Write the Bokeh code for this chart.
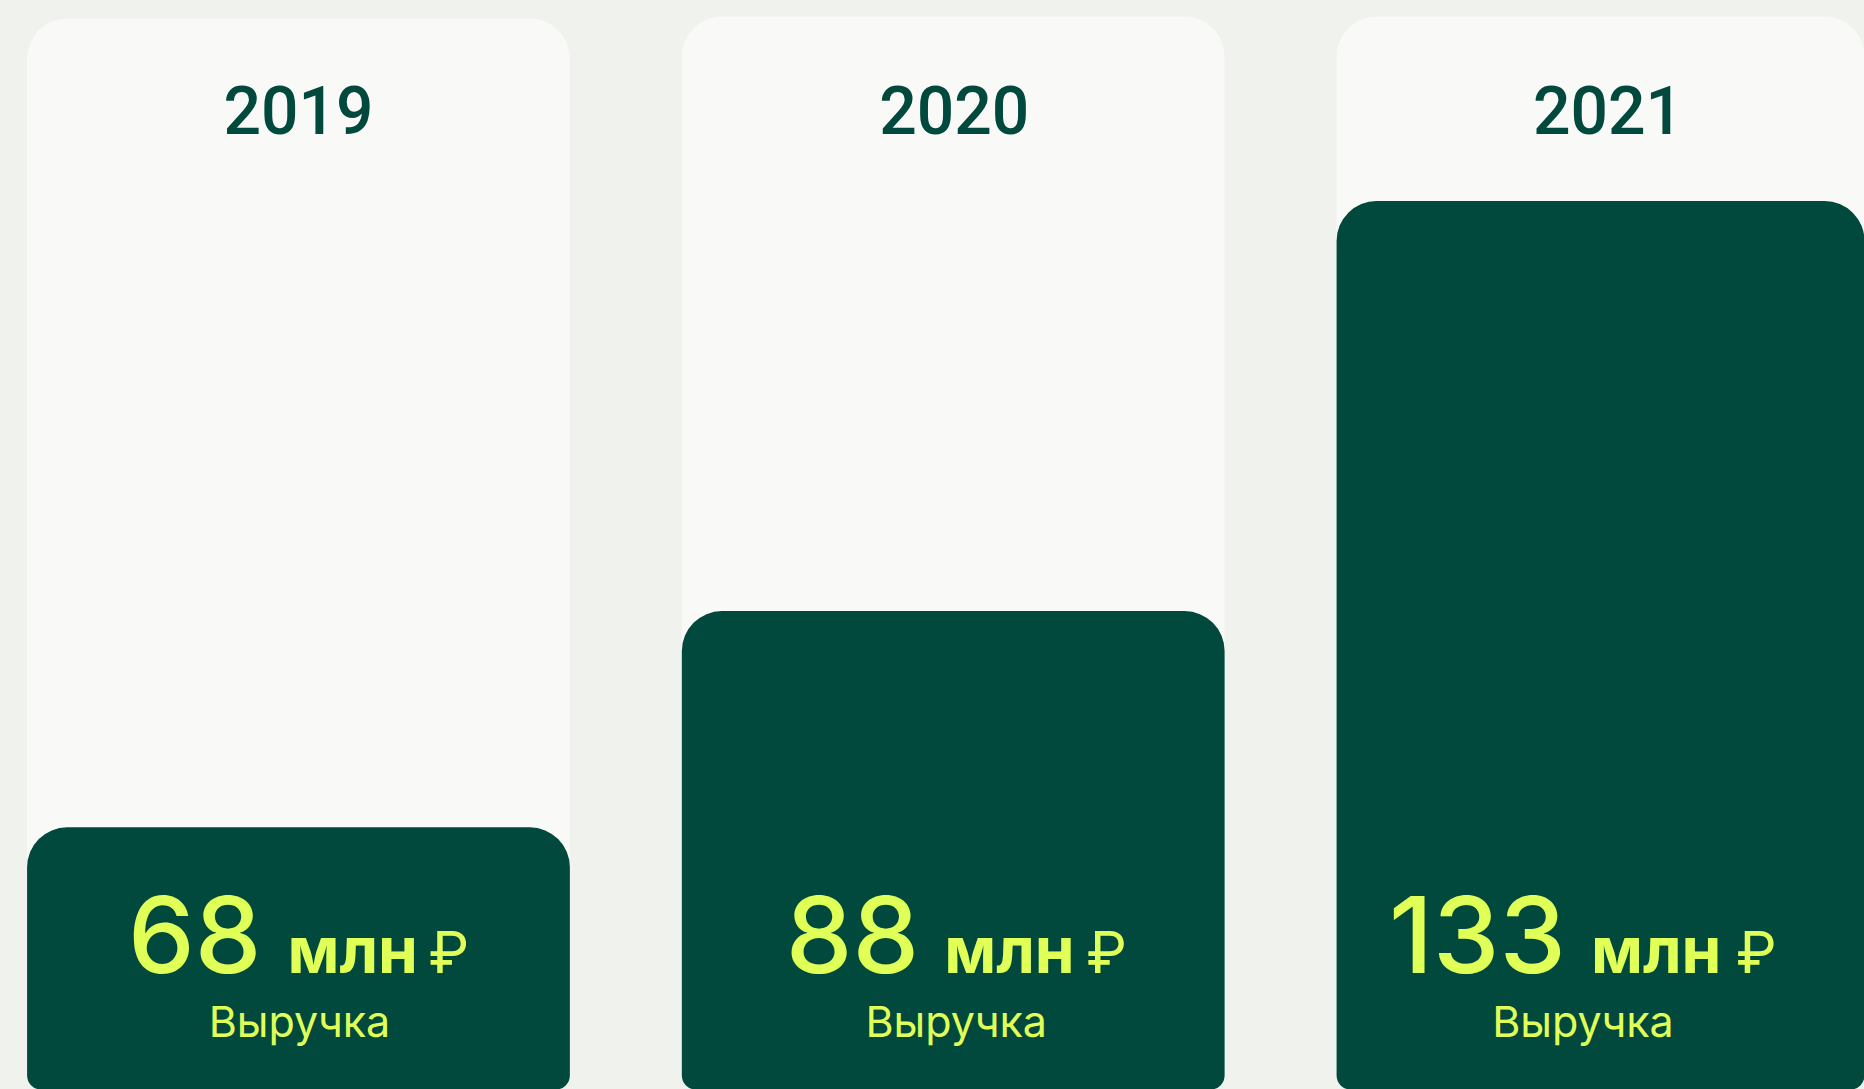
import numpy as np
from bokeh.plotting import figure
from bokeh.models import Range1d
from bokeh.core.properties import value
from bokeh.embed import file_html
from bokeh.resources import INLINE

# ---- data ----
years = ["2019", "2020", "2021"]
revenue = [68, 88, 133]          # млн ₽
unit_label = "млн"
currency = "₽"
metric_label = "Выручка"

# ---- style ----
BG = "#F0F2EE"
CARD = "#F9F9F7"
GREEN = "#00493C"
LIME = "#E0FF57"
FONT = "Inter"
FONT_YEAR = "Roboto Medium, Inter"
FONT_NUM = "Inter Medium, Inter"

W, H = 1864, 1089
PX_PER_UNIT = 654.75            # horizontal pixels per category slot
BAR_W = 0.829                   # card / bar width in category units
RADIUS = 40
BASE_SHIFT = 0.36               # text baseline correction (fraction of font size)

idx = np.arange(len(years))
bar_level = np.sqrt(np.array(revenue, dtype=float))   # bar heights use a square-root scale


def sx(px):
    """horizontal pixel offset -> category units"""
    return np.array(px, dtype=float) / PX_PER_UNIT


def sy(win_y, size=0):
    """window y (from top) -> layout range value (from figure bottom)"""
    return H - (np.array(win_y, dtype=float) - BASE_SHIFT * size)


p = figure(width=W, height=H, output_backend="svg", toolbar_location=None,
           x_range=Range1d(-0.4551, 2.3918), y_range=Range1d(6.871, 12.584),
           min_border=0)
p.axis.visible = False
p.grid.visible = False
p.outline_line_color = None
p.background_fill_color = BG
p.border_fill_color = BG
p.extra_y_ranges = {"px": Range1d(0, H)}

# light cards
p.vbar(x=idx, width=BAR_W, bottom=sy(1100), top=sy([18, 16, 16]), y_range_name="px",
       fill_color=CARD, line_color=None, border_radius=(RADIUS, RADIUS, 14, 14))

# revenue bars
p.vbar(x=idx, width=BAR_W, bottom=6.834, top=bar_level,
       fill_color=GREEN, line_color=None, border_radius=(RADIUS, RADIUS, 14, 14))

# year labels
p.text(x=idx + sx([0, 1, 0]), y=sy([133] * 3, 66), text=years, y_range_name="px",
       text_font=value(FONT_YEAR), text_font_size="66px", text_color=GREEN,
       text_align="center", text_baseline="alphabetic")

# big numbers
p.text(x=idx + sx([-37, -34, -42]), y=sy([972] * 3, 106), text=[str(v) for v in revenue],
       y_range_name="px", text_font=value(FONT_NUM), text_font_size="106px",
       text_color=LIME, text_align="right", text_baseline="alphabetic")

# unit "млн"
p.text(x=idx + sx([-11, -9, -17]), y=sy([972] * 3, 64), text=[unit_label] * 3,
       y_range_name="px", text_font=value(FONT), text_font_size="64px",
       text_font_style="bold", text_color=LIME, text_align="left",
       text_baseline="alphabetic")

# currency sign
p.text(x=idx + sx([130, 133, 128]), y=sy([972] * 3, 58), text=[currency] * 3,
       y_range_name="px", text_font=value(FONT), text_font_size="58px",
       text_color=LIME, text_align="left", text_baseline="alphabetic")

# metric label
p.text(x=idx + sx([1, 3, -25]), y=sy([1036] * 3, 43), text=[metric_label] * 3,
       y_range_name="px", text_font=value(FONT), text_font_size="43px",
       text_color=LIME, text_align="center", text_baseline="alphabetic")

html = file_html(p, INLINE)
html = html.replace("</head>", "<style>html,body{background:%s;margin:0;}</style></head>" % BG, 1)
open("out.html", "w").write(html)
